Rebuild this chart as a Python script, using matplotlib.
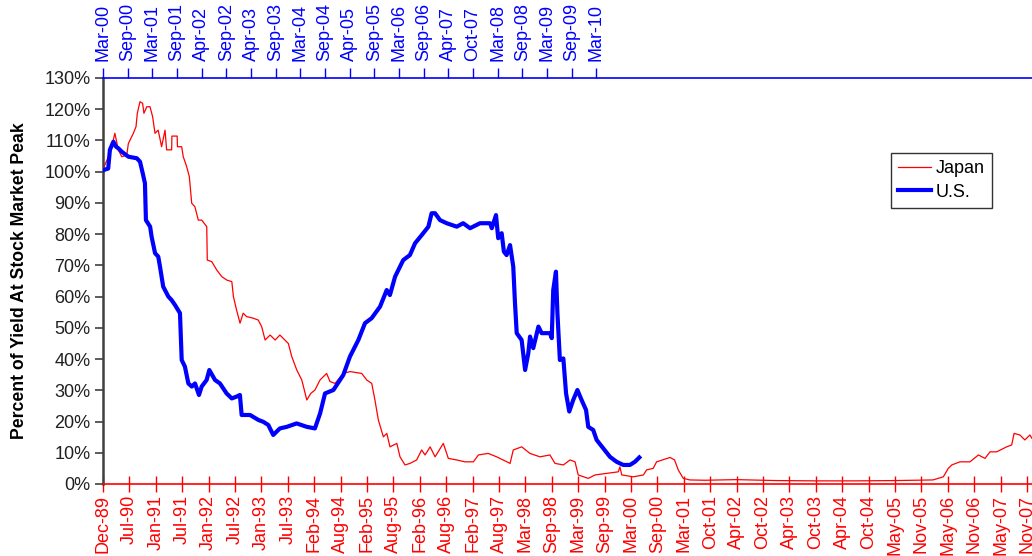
import matplotlib
matplotlib.use("Agg")
import matplotlib.pyplot as plt
from matplotlib.ticker import FuncFormatter, MultipleLocator

plt.rcParams['font.family'] = ['Liberation Sans', 'DejaVu Sans']

# ---- Data (x positions in units of axis tick steps) ----
bottom_labels = ["Dec-89", "Jul-90", "Jan-91", "Jul-91", "Jan-92", "Jul-92", "Jan-93", "Jul-93",
                 "Feb-94", "Aug-94", "Feb-95", "Aug-95", "Feb-96", "Aug-96", "Feb-97", "Aug-97",
                 "Mar-98", "Sep-98", "Mar-99", "Sep-99", "Mar-00", "Sep-00", "Mar-01", "Oct-01",
                 "Apr-02", "Oct-02", "Apr-03", "Oct-03", "Apr-04", "Oct-04", "May-05", "Nov-05",
                 "May-06", "Nov-06", "May-07", "Nov-07"]
top_labels = ["Mar-00", "Sep-00", "Mar-01", "Sep-01", "Apr-02", "Sep-02", "Apr-03", "Sep-03",
              "Mar-04", "Sep-04", "Apr-05", "Sep-05", "Mar-06", "Sep-06", "Apr-07", "Oct-07",
              "Mar-08", "Sep-08", "Mar-09", "Sep-09", "Mar-10"]

japan_x = [0.01, 0.04, 0.27, 0.45, 0.58, 0.71, 0.90, 0.96, 1.15, 1.25, 1.30, 1.40, 1.50, 1.55,
           1.66, 1.78, 1.88, 1.97, 2.09, 2.22, 2.35, 2.41, 2.60, 2.61, 2.81, 2.82, 2.98, 3.04,
           3.17, 3.27, 3.36, 3.48, 3.61, 3.74, 3.93, 3.95, 4.12, 4.31, 4.50, 4.69, 4.88, 4.94,
           5.06, 5.19, 5.31, 5.44, 5.69, 5.88, 6.01, 6.14, 6.33, 6.52, 6.70, 7.02, 7.15, 7.34,
           7.53, 7.72, 7.87, 8.03, 8.22, 8.47, 8.60, 8.79, 9.10, 9.36, 9.80, 9.99, 10.18, 10.30,
           10.43, 10.62, 10.75, 10.87, 11.13, 11.25, 11.44, 11.63, 11.88, 12.07, 12.20, 12.39,
           12.58, 12.89, 13.08, 13.40, 13.71, 14.03, 14.22, 14.59, 14.91, 15.42, 15.54, 15.86,
           16.17, 16.55, 16.93, 17.12, 17.44, 17.69, 17.88, 18.00, 18.38, 18.64, 19.08, 19.52,
           19.58, 19.65, 20.09, 20.47, 20.59, 20.84, 20.97, 21.48, 21.65, 21.79, 21.98, 22.23,
           22.8, 24.0, 25.5, 27.0, 28.5, 30.0, 31.44, 31.83, 32.02, 32.15, 32.46, 32.84, 33.16,
           33.41, 33.60, 33.85, 34.23, 34.42, 34.51, 34.73, 34.92, 35.11, 35.19]
japan_y = [98.4, 101.6, 106.0, 112.3, 107.0, 104.8, 105.3, 109.0, 112.3, 114.4, 118.7, 122.4,
           121.9, 118.7, 120.8, 120.8, 117.6, 112.3, 113.3, 108.0, 113.3, 107.0, 107.0, 111.4,
           111.4, 108.0, 108.0, 104.8, 101.6, 98.4, 89.9, 88.8, 84.5, 84.5, 82.4, 71.7, 71.2,
           68.5, 66.4, 65.3, 64.8, 60.0, 55.7, 51.5, 54.7, 53.6, 53.1, 52.5, 50.4, 46.1, 47.7,
           46.1, 47.7, 45.0, 40.8, 36.5, 33.3, 26.9, 29.0, 30.1, 33.3, 35.4, 32.8, 32.2, 35.4,
           36.0, 35.4, 33.3, 32.2, 26.9, 20.5, 15.1, 16.2, 11.9, 13.0, 8.7, 6.1, 6.6, 7.7, 10.9,
           9.3, 11.9, 8.7, 13.0, 8.2, 7.7, 7.1, 7.1, 9.3, 9.8, 8.7, 6.6, 10.9, 11.9, 9.8, 8.7,
           9.3, 6.6, 6.1, 7.7, 7.1, 2.9, 1.8, 2.9, 3.4, 3.9, 5.5, 2.9, 2.3, 2.9, 4.5, 5.0, 7.1,
           8.5, 7.7, 4.5, 1.8, 1.3, 1.2, 1.4, 1.1, 1.0, 1.0, 1.1, 1.3, 2.3, 5.0, 6.1, 7.1, 7.1,
           9.3, 8.2, 10.3, 10.3, 11.9, 12.5, 16.2, 15.7, 14.1, 15.7, 14.6]

us_x = [0.01, 0.21, 0.28, 0.42, 0.53, 0.62, 0.76, 1.03, 1.37, 1.50, 1.61, 1.70, 1.74, 1.91,
        1.97, 2.11, 2.24, 2.31, 2.44, 2.65, 2.78, 2.92, 3.12, 3.19, 3.32, 3.46, 3.60, 3.73,
        3.89, 4.00, 4.20, 4.31, 4.54, 4.74, 5.01, 5.22, 5.42, 5.55, 5.62, 5.96, 6.30, 6.50,
        6.70, 6.90, 7.17, 7.45, 7.85, 8.26, 8.59, 8.80, 9.00, 9.34, 9.74, 10.01, 10.35, 10.62,
        10.89, 11.23, 11.50, 11.63, 11.84, 12.17, 12.44, 12.65, 12.92, 13.19, 13.32, 13.46,
        13.66, 13.93, 14.34, 14.60, 14.88, 15.28, 15.69, 15.76, 15.93, 16.02, 16.16, 16.25,
        16.36, 16.50, 16.63, 16.70, 16.77, 16.97, 17.11, 17.24, 17.31, 17.44, 17.65, 17.78,
        18.12, 18.19, 18.25, 18.36, 18.42, 18.52, 18.66, 18.77, 18.90, 19.06, 19.23, 19.40,
        19.58, 19.67, 19.87, 20.01, 20.28, 20.55, 20.82, 21.09, 21.36, 21.56, 21.74]
us_y = [100.5, 101.0, 107.0, 109.6, 108.0, 107.5, 106.4, 104.8, 104.3, 103.2, 99.5, 96.3,
        84.5, 82.4, 79.2, 73.9, 72.8, 69.6, 63.2, 60.0, 58.9, 57.3, 54.7, 39.7, 37.6, 32.2,
        31.2, 32.2, 28.5, 31.2, 33.3, 36.5, 33.3, 32.2, 29.0, 27.4, 28.0, 28.5, 22.1, 22.1,
        20.5, 19.9, 18.9, 15.7, 17.8, 18.3, 19.4, 18.3, 17.8, 22.6, 29.0, 30.1, 34.9, 40.8,
        46.1, 51.5, 53.1, 56.8, 62.1, 60.5, 66.4, 71.7, 73.3, 77.1, 79.7, 82.4, 86.7, 86.7,
        84.5, 83.5, 82.4, 83.5, 81.9, 83.5, 83.5, 81.9, 86.1, 78.7, 80.3, 74.4, 73.3, 76.5,
        69.6, 57.9, 48.3, 46.1, 36.5, 41.9, 47.2, 43.5, 50.4, 48.3, 48.3, 46.7, 62.1, 68.0,
        54.7, 39.7, 40.2, 29.0, 23.2, 26.9, 30.1, 26.9, 23.7, 18.3, 17.3, 14.1, 11.4, 8.7,
        7.1, 6.1, 6.1, 7.1, 8.5]

FS = 13

fig = plt.figure(figsize=(10.32, 5.56), dpi=100)
ax = fig.add_axes([103 / 1032, 1 - 484 / 556, 929 / 1032, (484 - 78) / 556])
ax2 = ax.twiny()

l1, = ax.plot(japan_x, japan_y, color='#ff0000', lw=0.9, label='Japan')
l2, = ax2.plot(us_x, us_y, color='#0000ff', lw=3.0, label='U.S.')

ax.set_ylim(0, 130)
ax.set_xlim(0, 929 / 26.4)
ax2.set_xlim(0, 929 / 24.67)

ax.yaxis.set_major_locator(MultipleLocator(10))
ax.yaxis.set_major_formatter(FuncFormatter(lambda v, p: f"{v:.0f}%"))
ax.tick_params(axis='y', direction='out', length=6, width=1.2, color='#404040',
               labelsize=FS, labelcolor='#202020', pad=3)

ax.set_xticks(range(len(bottom_labels)))
ax.set_xticklabels(bottom_labels, rotation=90, color='#ff0000', fontsize=FS)
ax.tick_params(axis='x', direction='inout', length=12, width=1, color='#ff0000', pad=2)

ax2.set_xticks(range(len(top_labels)))
ax2.set_xticklabels(top_labels, rotation=90, color='#0000ff', fontsize=FS)
ax2.tick_params(axis='x', direction='out', length=7, width=1, color='#0000ff', pad=5)

for s in ['top', 'right']:
    ax.spines[s].set_visible(False)
ax.spines['bottom'].set_color('#ff0000')
ax.spines['bottom'].set_linewidth(1.2)
ax.spines['left'].set_color('#404040')
ax.spines['left'].set_linewidth(1.8)
for s in ['bottom', 'left', 'right']:
    ax2.spines[s].set_visible(False)
ax2.spines['top'].set_color('#0000ff')
ax2.spines['top'].set_linewidth(1.2)

ax.set_ylabel('Percent of Yield At Stock Market Peak', fontsize=12.7, fontweight='bold',
              labelpad=12)

leg = ax2.legend([l1, l2], ['Japan', 'U.S.'], loc='upper left',
                 bbox_to_anchor=(0.848, 0.815), fontsize=FS, frameon=True, fancybox=False,
                 edgecolor='black', handlelength=1.8, handletextpad=0.3, borderpad=0.4,
                 labelspacing=0.35, borderaxespad=0)
leg.get_frame().set_linewidth(1.0)

fig.savefig('out.png', dpi=100)
